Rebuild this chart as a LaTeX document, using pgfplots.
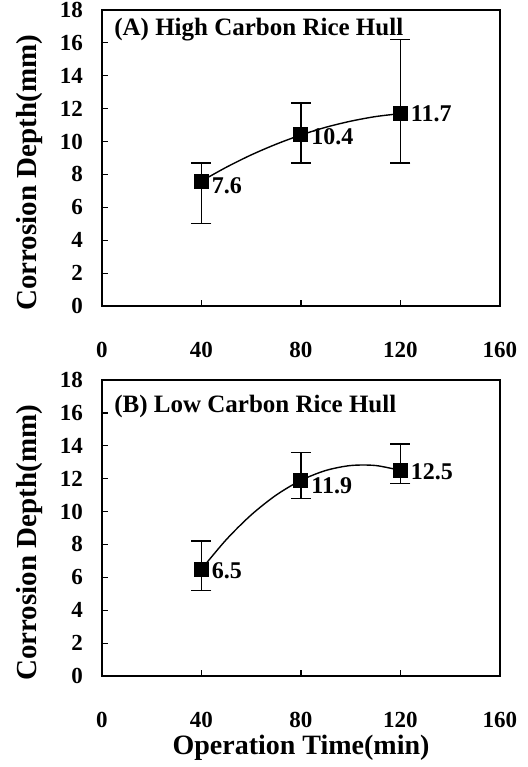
\documentclass[border=0pt]{standalone}
\usepackage{fontspec}
\setmainfont{Liberation Serif}
\usepackage{pgfplots}
\pgfplotsset{compat=1.18}
\tikzset{
  lbl/.style={anchor=west, font=\fontsize{12}{13}\selectfont\bfseries, xshift=4pt, inner sep=1pt},
  ttl/.style={anchor=north west, font=\fontsize{12.5}{13}\selectfont\bfseries, inner sep=0pt},
}
\begin{document}
\begin{tikzpicture}
\useasboundingbox (0,0) rectangle (264pt,-383.5pt);
\pgfplotsset{
  panel/.style={
    scale only axis, width=199pt, height=148pt,
    xmin=0, xmax=160, ymin=0, ymax=18,
    xtick={0,40,80,120,160}, ytick={0,2,...,18},
    tick align=inside, xtick pos=left, ytick pos=left,
    major tick length=3pt,
    axis line style={line width=0.7pt},
    every tick/.style={black, line width=0.6pt},
    /pgf/number format/assume math mode=true,
    ticklabel style={font=\fontsize{11.5}{12}\selectfont\bfseries},
    yticklabel style={anchor=east, xshift=-6pt},
    xticklabel style={anchor=center, yshift=-22pt},
    ylabel={Corrosion Depth(mm)},
    ylabel style={font=\fontsize{14.5}{15}\selectfont\bfseries, at={(axis description cs:0,0.45)}, anchor=center, yshift=36pt},
    clip=false,
  },
  dat/.style={black, line width=0.7pt, only marks, mark=square*, mark size=3.4pt, mark options={solid},
    error bars/.cd, y dir=both, y explicit,
    error bar style={line width=0.7pt},
    error mark options={rotate=90, mark size=5pt, line width=0.7pt}},
  fit/.style={black, line width=0.7pt, smooth, no markers},
}
% Panel A
\begin{axis}[panel, at={(51pt,-153pt)}, anchor=south west]
\addplot[fit] coordinates {(40,7.6) (50,8.44) (60,9.19) (70,9.84) (80,10.4) (90,10.87) (100,11.24) (110,11.52) (120,11.7)};
\addplot[dat] coordinates {
  (40,7.6) += (0,1.1) -= (0,2.6)
  (80,10.4) += (0,1.95) -= (0,1.7)
  (120,11.7) += (0,4.5) -= (0,3.0)
};
\node[lbl] at (axis cs:40,7.3) {7.6};
\node[lbl] at (axis cs:80,10.3) {10.4};
\node[lbl] at (axis cs:120,11.7) {11.7};
\node[ttl] at (axis description cs:0.03,0.975) {(A) High Carbon Rice Hull};
\end{axis}
% Panel B
\begin{axis}[panel, at={(51pt,-338pt)}, anchor=south west,
  xlabel={Operation Time(min)},
  xlabel style={font=\fontsize{14}{15}\selectfont\bfseries, at={(axis description cs:0.5,0)}, anchor=center, yshift=-36pt}]
\addplot[fit] coordinates {(40,6.5) (50,8.3) (60,9.8) (70,11.0) (80,11.9) (90,12.5) (100,12.8) (110,12.8) (120,12.5)};
\addplot[dat] coordinates {
  (40,6.5) += (0,1.7) -= (0,1.3)
  (80,11.9) += (0,1.7) -= (0,1.1)
  (120,12.5) += (0,1.6) -= (0,0.8)
};
\node[lbl] at (axis cs:40,6.4) {6.5};
\node[lbl] at (axis cs:80,11.6) {11.9};
\node[lbl] at (axis cs:120,12.4) {12.5};
\node[ttl] at (axis description cs:0.03,0.95) {(B) Low Carbon Rice Hull};
\end{axis}
\end{tikzpicture}
\end{document}
